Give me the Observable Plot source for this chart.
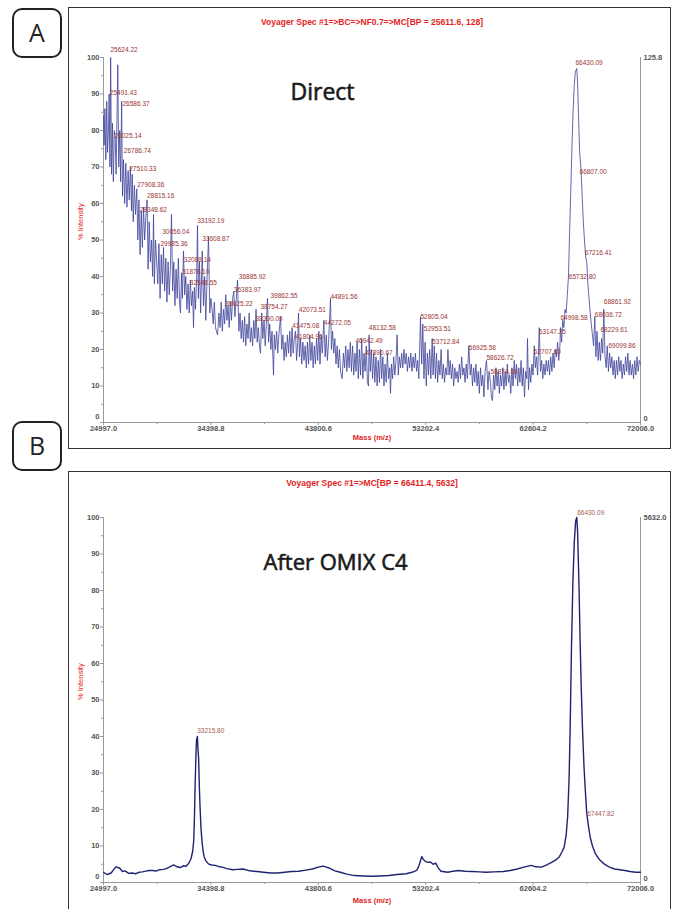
<!DOCTYPE html>
<html>
<head>
<meta charset="utf-8">
<script src="https://cdn.jsdelivr.net/npm/d3@7"></script>
<script src="https://cdn.jsdelivr.net/npm/@observablehq/plot@0.6"></script>
<style>
  body { margin: 0; background: #fff; }
  #page { position: relative; width: 675px; height: 909px; overflow: hidden; background: #fff; }
  .tag { position: absolute; box-sizing: border-box; width: 50px; height: 50px; border: 2px solid #222; border-radius: 10px;
         font-family: "Open Sans", sans-serif; font-size: 25px; line-height: 45px; text-align: center; color: #222; }
  .frame { position: absolute; box-sizing: border-box; border: 1.5px solid #333; }
  .plot { position: absolute; }
</style>
</head>
<body>
<div id="page">
  <div class="tag" style="left:12px; top:8px;">A</div>
  <div class="tag" style="left:12px; top:421px;">B</div>
  <div class="frame" style="left:68px; top:7px; width:603px; height:442px;"></div>
  <div class="frame" style="left:68px; top:471px; width:603px; height:450px;"></div>
  <div class="plot" id="plotA" style="left:69px; top:8px;"></div>
  <div class="plot" id="plotB" style="left:69px; top:472px;"></div>
</div>
<script>
// ---------- data ----------
const xTickValues = [24997.0, 34398.8, 43800.6, 53202.4, 62604.2, 72006.0];
const xMinorTicks = [29697.9, 39099.7, 48501.5, 57903.3, 67305.1];
const yTickValues = [10, 20, 30, 40, 50, 60, 70, 80, 90, 100];
const yZeroLabel = "0";
const yMinorTicks = [5, 15, 25, 35, 45, 55, 65, 75, 85, 95];

const titleA = "Voyager Spec #1=>BC=>NF0.7=>MC[BP = 25611.6, 128]";
const titleB = "Voyager Spec #1=>MC[BP = 66411.4, 5632]";
const panelTextA = "Direct";
const panelTextB = "After OMIX C4";
const rightAxisA = ["125.8", "0"];
const rightAxisB = ["5632.0", "0"];
const yAxisTitle = "% Intensity";
const xAxisTitle = "Mass (m/z)";

// spectrum A: [mass, % intensity]
const spectrumA = [
[24997,84],[25050,76],[25120,86],[25200,72],[25280,88],[25350,74],[25430,80],[25491,90],[25560,70],[25624,100],
[25700,68],[25780,82],[25860,66],[25940,80],[26025,78],[26100,68],[26180,84],[26250,98],[26330,70],[26420,80],
[26500,66],[26586,88],[26660,62],[26750,72],[26850,60],[26950,71],[27050,59],[27150,69],[27250,61],[27350,70],
[27450,58],[27510,68],[27600,55],[27700,65],[27800,57],[27908,64],[28000,50],[28100,61],[28200,46],[28300,58],
[28400,48],[28500,59],[28600,50],[28700,56],[28815,61],[28900,42],[29000,55],[29100,44],[29200,50],[29300,40],
[29374,57],[29450,38],[29550,50],[29656,44],[29750,38],[29850,49],[29950,34],[30050,46],[30150,38],[30250,48],
[30350,36],[30450,45],[30550,33],[30650,44],[30750,35],[30850,42],[30950,57],[31050,36],[31150,44],[31250,32],
[31350,42],[31450,34],[31550,45],[31650,33],[31738,30],[31826,41],[31900,34],[32000,47],[32100,35],[32200,40],
[32300,31],[32400,38],[32500,30],[32600,39],[32700,32],[32800,36],[32876,26],[32950,37],[33050,31],[33150,40],
[33226,54],[33300,34],[33400,44],[33500,30],[33640,47],[33750,32],[33850,40],[33950,28],[34050,38],[34190,51],
[34300,30],[34400,34],[34500,31],[34600,27],[34700,33],[34800,26],[34977,24],[35100,30],[35200,26],[35300,33],
[35400,25],[35500,31],[35600,27],[35700,35],[35800,28],[35900,32],[36000,26],[36100,33],[36200,28],[36300,34],
[36403,36],[36500,29],[36600,33],[36727,39],[36850,25],[36950,30],[37050,23],[37150,28],[37250,22],[37350,29],
[37450,21],[37550,27],[37650,23],[37750,30],[37850,22],[37950,26],[38050,21],[38150,28],[38250,23],[38350,31],
[38450,22],[38550,26],[38650,21],[38741,19],[38850,30],[38950,23],[39050,28],[39150,21],[39250,27],[39354,34],
[39450,22],[39550,27],[39650,20],[39750,25],[39880,13],[39950,24],[40050,20],[40150,25],[40250,19],[40350,24],
[40492,29],[40600,20],[40700,24],[40800,17],[40900,22],[41000,18],[41100,24],[41200,19],[41300,25],[41400,18],
[41500,26],[41600,19],[41700,23],[41804,25],[41900,17],[42000,22],[42067,30],[42150,18],[42250,23],[42350,16],
[42450,22],[42550,17],[42650,21],[42750,15],[42850,22],[42950,16],[43050,24],[43150,17],[43250,22],[43350,15],
[43450,21],[43550,16],[43650,23],[43750,17],[43850,25],[43950,16],[44050,24],[44150,19],[44282,28],[44400,18],
[44500,24],[44600,17],[44700,22],[44868,34],[44950,20],[45050,25],[45150,19],[45250,23],[45350,16],[45450,21],
[45550,15],[45650,20],[45750,14],[45890,12],[46000,19],[46100,15],[46200,21],[46300,14],[46400,20],[46500,15],
[46600,22],[46700,14],[46800,21],[46900,13],[47010,19],[47100,14],[47200,22],[47300,12],[47400,20],[47500,13],
[47600,23],[47700,12],[47800,19],[47900,14],[48000,21],[48100,11],[48195,10],[48250,24],[48350,14],[48450,20],
[48550,12],[48650,19],[48750,11],[48850,18],[48950,10],[49050,17],[49150,11],[49250,20],[49350,12],[49450,18],
[49550,10],[49650,16],[49750,11],[49850,19],[49950,12],[50050,15],[50120,8],[50200,16],[50300,12],[50400,18],
[50500,13],[50600,17],[50700,24],[50800,13],[50900,18],[51000,15],[51100,19],[51200,15],[51300,20],[51400,16],
[51500,19],[51600,14],[51700,18],[51800,15],[51900,19],[52000,14],[52100,18],[52200,15],[52300,19],[52400,14],
[52500,17],[52600,12],[52747,29],[52850,16],[52950,27],[53050,12],[53150,22],[53250,10],[53350,19],[53450,13],
[53550,20],[53650,12],[53771,23],[53850,13],[53950,21],[54050,12],[54150,19],[54250,11],[54350,17],[54450,13],
[54550,20],[54650,12],[54750,16],[54850,11],[54950,15],[55050,13],[55150,20],[55250,13],[55350,17],[55450,12],
[55550,16],[55650,10],[55750,15],[55850,12],[55950,14],[56050,11],[56150,16],[56250,12],[56350,18],[56450,13],
[56550,15],[56650,11],[56750,16],[56850,12],[56975,21],[57100,13],[57200,16],[57300,10],[57400,15],[57500,11],
[57600,16],[57700,10],[57800,14],[57900,8],[58000,15],[58100,10],[58200,13],[58300,7],[58400,14],[58525,17],
[58650,9],[58750,14],[58875,11],[58950,7],[59050,6],[59150,13],[59250,9],[59350,15],[59450,10],[59550,14],
[59650,8],[59750,13],[59850,10],[59950,15],[60050,9],[60150,14],[60250,10],[60350,16],[60450,11],[60550,13],
[60650,8],[60750,15],[60850,10],[60950,17],[61050,12],[61150,16],[61250,10],[61350,15],[61450,11],[61550,17],
[61650,10],[61750,15],[61850,7],[61950,14],[62050,12],[62115,23],[62200,9],[62300,15],[62400,11],[62500,16],
[62600,13],[62707,21],[62800,15],[62900,18],[63000,13],[63147,26],[63250,14],[63350,17],[63450,12],[63550,16],
[63650,13],[63750,17],[63850,14],[63950,17],[64050,13],[64150,18],[64250,14],[64350,19],[64450,15],[64550,20],
[64650,18],[64750,22],[64850,17],[64950,21],[65003,26],[65100,22],[65200,28],[65300,26],[65400,31],[65500,30],
[65600,35],[65700,40],[65800,52],[65900,63],[66000,75],[66100,85],[66200,92],[66300,96],[66430,97],[66500,93],
[66580,84],[66680,74],[66807,69],[66900,62],[67000,55],[67100,50],[67216,45],[67300,44],[67400,38],[67500,34],
[67600,30],[67700,27],[67800,24],[67900,21],[68003,29],[68100,18],[68200,25],[68300,17],[68400,22],[68500,17],
[68600,23],[68700,19],[68794,31],[68900,18],[69000,15],[69091,21],[69200,14],[69300,19],[69400,15],[69500,18],
[69600,13],[69700,17],[69800,12],[69900,17],[70000,13],[70100,18],[70200,14],[70300,17],[70400,12],[70500,16],
[70600,13],[70700,18],[70800,14],[70900,19],[71000,13],[71100,17],[71200,13],[71300,16],[71400,12],[71500,17],
[71600,13],[71700,18],[71800,14],[71900,17],[72006,16]
];

// spectrum B: [mass, % intensity]
const spectrumB = [
[24997,2.8],[25300,2.2],[25666,2.6],[25900,3.6],[26100,4.3],[26425,3.9],[26650,3.0],[26881,3.2],[27200,2.5],[27489,2.6],
[27800,2.4],[28100,2.8],[28401,2.9],[28700,3.1],[29000,3.3],[29312,3.3],[29600,3.1],[29900,3.5],[30224,3.6],[30500,3.8],
[30800,4.3],[31136,4.8],[31450,4.3],[31744,4.1],[32000,4.6],[32199,4.4],[32450,5.2],[32655,6.5],[32800,8.5],[32898,11.5],
[32960,18],[33020,27],[33100,36],[33142,39],[33216,40],[33280,36],[33324,34],[33390,26],[33445,21],[33530,15],
[33627,11],[33720,8.5],[33810,7],[33950,6],[34175,5.1],[34450,4.8],[34783,4.7],[35050,4.4],[35390,4.2],[35800,3.8],
[36302,3.5],[36750,3.6],[37214,3.7],[37800,3.2],[38430,3.0],[39000,2.8],[39645,2.6],[40250,2.6],[40861,2.8],[41450,3.0],
[42076,3.1],[42700,3.4],[43292,3.7],[43800,4.2],[44204,4.5],[44500,4.2],[44811,3.9],[45250,3.2],[45723,2.8],[46300,2.3],
[46939,1.9],[47700,1.8],[48458,1.7],[49200,1.8],[49978,1.9],[50700,2.2],[51497,2.4],[52000,2.8],[52409,3.3],[52600,4.5],
[52713,5.6],[52865,7.1],[53000,6.3],[53169,5.8],[53400,5.5],[53625,5.6],[53850,5.0],[54080,5.3],[54300,4.0],[54536,3.1],
[55144,2.8],[55600,3.1],[56056,3.3],[56650,3.1],[57271,3.0],[57900,2.9],[58487,2.8],[59200,2.9],[60006,3.0],[60600,3.3],
[61222,3.7],[61800,4.2],[62437,4.7],[62850,4.3],[63349,4.2],[63800,4.8],[64261,5.6],[64600,6.2],[64868,6.9],[65100,8.2],
[65324,9.7],[65500,13],[65628,18],[65750,28],[65841,41],[65962,64],[66084,82],[66206,93],[66327,99],[66430,100],
[66500,96],[66560,89],[66631,80],[66720,66],[66813,54],[66930,42],[67056,32],[67180,25],[67299,19],[67447,15.5],
[67603,12.4],[67800,10],[68059,7.9],[68400,6.3],[68819,5.1],[69250,4.3],[69730,3.7],[70200,3.5],[70642,3.3],[71100,3.0],
[71572,2.8],[72006,2.8]
];

// peak annotations (text, mass position of text start, intensity of text centre)
const peakTextA = ["25624.22","25491.43","26586.37","26025.14","26786.74","27510.33","27908.36","28815.16","28348.62",
  "30056.04","29985.36","33192.19","33608.87","32088.14","31878.10","32548.55","36885.92","36383.97","35625.22",
  "39862.55","38754.27","38300.09","42073.51","41475.08","41804.96","44891.56","44272.05","48132.58","46942.49",
  "47890.67","52805.04","52953.51","53712.84","56925.58","58626.72","58874.88","62707.60","63147.25","64998.58",
  "65732.80","66430.09","66807.00","67216.41","68861.92","68036.72","68229.61","69099.86"];
const peakMassA = [25610,25550,26660,25960,26775,27250,27947,28822,28175,
  30136,29987,33200,33637,32027,31886,32552,36841,36403,35677,
  39616,38741,38303,42094,41515,41805,44868,44282,48222,47057,
  47933,52747,53036,53771,56975,58525,58875,62667,63105,65003,
  65733,66316,66667,67132,68794,68003,68500,69200];
const peakYA = [102,90.3,87.3,78.4,74.3,69.5,65,62,58.3,
  52.1,48.8,55.3,50.3,44.6,41.2,38.2,40,36.3,32.5,
  34.8,31.6,28.4,30.9,26.4,23.4,34.3,27.2,25.8,22.3,
  19,28.9,25.7,22,20.4,17.7,13.8,19.3,24.7,28.7,
  39.8,98.5,68.6,46.5,33,29.5,25.4,21.1];

const peakTextB = ["66430.09", "33215.80", "67447.82"];
const peakMassB = [66460, 33200, 67340];
const peakYB = [101.2, 41.4, 18.8];

// ---------- drawing ----------
const RED = "#e31e24";
const xDomain = [xTickValues[0], xTickValues[xTickValues.length - 1]];

function makePanel(o) {
  const labels = o.peakText.map((t, i) => ({text: t, mass: o.peakMass[i], y: o.peakY[i]}));
  return Plot.plot({
    width: 600,
    height: o.height,
    marginLeft: 34,
    marginRight: 29,
    marginTop: o.marginTop,
    marginBottom: o.marginBottom,
    style: {fontFamily: "'Liberation Sans', Arial, sans-serif", fontSize: "7.5px", color: "#555", background: "transparent", overflow: "visible"},
    x: {type: "linear", domain: xDomain},
    y: {type: "linear", domain: [0, 100]},
    marks: [
      Plot.ruleX([xDomain[0], xDomain[1]], {stroke: "#999"}),
      Plot.ruleY([0], {stroke: "#999"}),
      Plot.axisY(yTickValues, {anchor: "left", tickSize: 3, tickPadding: 1, label: null, color: "#555", stroke: "#999", fontWeight: "bold"}),
      Plot.axisY(yMinorTicks, {anchor: "left", tickSize: 2, tickFormat: () => "", label: null, stroke: "#999"}),
      Plot.axisY([0], {anchor: "left", tickSize: 3, tickFormat: () => "", label: null, stroke: "#999"}),
      Plot.text([yZeroLabel], {frameAnchor: "bottom-left", textAnchor: "end", dx: -4, dy: -4, fontWeight: "bold", fill: "#555"}),
      Plot.axisX(xTickValues, {anchor: "bottom", tickSize: 3, tickPadding: 0.5, label: null, color: "#555", stroke: "#999", fontWeight: "bold", tickFormat: d => d.toFixed(1)}),
      Plot.axisX(xMinorTicks, {anchor: "bottom", tickSize: 2, tickFormat: () => "", label: null, stroke: "#999"}),
      Plot.text([o.rightAxis[0]], {x: xDomain[1], y: 100, textAnchor: "start", dx: 3, fontWeight: "bold", fill: "#555"}),
      Plot.text([o.rightAxis[1]], {x: xDomain[1], y: 0, textAnchor: "start", dx: 3, dy: -4, fontWeight: "bold", fill: "#555"}),
      Plot.line(o.spectrum, {x: d => d[0], y: d => d[1], stroke: o.lineColor, strokeWidth: o.lineWidth}),
      Plot.text(labels, {x: "mass", y: "y", text: "text", textAnchor: "start", fill: o.labelColor, fontSize: 6.5}),
      Plot.text([o.title], {frameAnchor: "top", lineAnchor: "middle", dy: o.titleDy, fill: RED, fontWeight: "bold", fontSize: 8.5}),
      Plot.text([yAxisTitle], {frameAnchor: "left", rotate: -90, dx: -23, fill: RED, fontSize: 7.5}),
      Plot.text([xAxisTitle], {frameAnchor: "bottom", lineAnchor: "middle", dy: o.xTitleDy, fill: RED, fontSize: 7.5, fontWeight: "bold"}),
      Plot.text([o.panelText], {frameAnchor: "top-left", textAnchor: "start", lineAnchor: "bottom", dx: o.panelDx, dy: o.panelDy,
        fontSize: o.panelSize, fontFamily: "'Open Sans', sans-serif", fontWeight: 400, fill: "#1a1a1a",
        stroke: "#1a1a1a", strokeWidth: 0.6})
    ]
  });
}

document.getElementById("plotA").appendChild(makePanel({
  height: 440, marginTop: 49, marginBottom: 26,
  spectrum: spectrumA, peakText: peakTextA, peakMass: peakMassA, peakY: peakYA,
  lineColor: "#3d4299", lineWidth: 0.8, labelColor: "#9a3535",
  title: titleA, titleDy: -35, xTitleDy: 15, rightAxis: rightAxisA,
  panelText: panelTextA, panelDx: 187, panelDy: 42, panelSize: 23
}));

document.getElementById("plotB").appendChild(makePanel({
  height: 437, marginTop: 45, marginBottom: 27,
  spectrum: spectrumB, peakText: peakTextB, peakMass: peakMassB, peakY: peakYB,
  lineColor: "#1f2470", lineWidth: 1.4, labelColor: "#a55a50",
  title: titleB, titleDy: -34, xTitleDy: 18, rightAxis: rightAxisB,
  panelText: panelTextB, panelDx: 160, panelDy: 52, panelSize: 22
}));
</script>
</body>
</html>
